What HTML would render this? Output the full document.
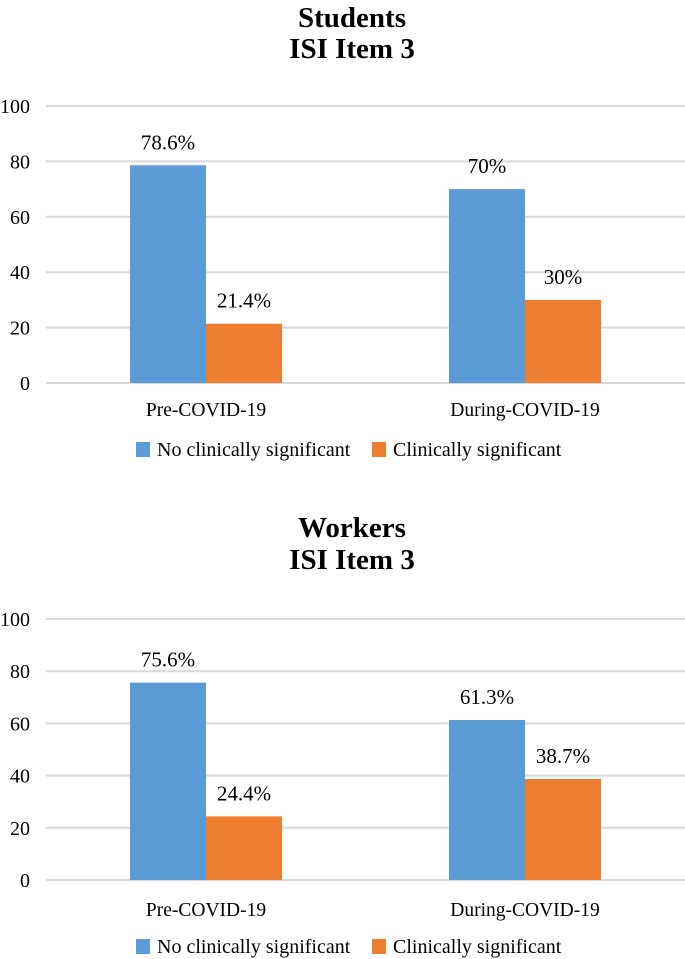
<!DOCTYPE html>
<html><head><meta charset="utf-8"><style>
body{margin:0;background:#fff;width:685px;height:959px;overflow:hidden}
svg{display:block;font-family:"Liberation Serif",serif}
</style></head><body>
<svg id="c" width="685" height="959"></svg>
<script>
const categories=["Pre-COVID-19","During-COVID-19"];
const seriesNames=["No clinically significant","Clinically significant"];
const studentsNo=[78.6,70];
const studentsCS=[21.4,30];
const studentsLabels=[["78.6%","70%"],["21.4%","30%"]];
const workersNo=[75.6,61.3];
const workersCS=[24.4,38.7];
const workersLabels=[["75.6%","61.3%"],["24.4%","38.7%"]];
const yTicks=[0,20,40,60,80,100];
const colors=["#5b9bd5","#ed7d31"];
const NS="http://www.w3.org/2000/svg";
const svg=document.getElementById('c');
function mk(tag,attrs,parent,text){const e=document.createElementNS(NS,tag);for(const k in attrs)e.setAttribute(k,attrs[k]);if(text!==undefined)e.textContent=text;(parent||svg).appendChild(e);return e;}
function chart(cfg){
  const g=mk('g',{});
  
  
  const y=v=>cfg.y0+(cfg.y100-cfg.y0)*v/100;
  cfg.titles.forEach((t,i)=>{const e=mk('text',{x:352,y:cfg.titleY[i],'text-anchor':'middle','font-size':29,'font-weight':'bold',fill:'#000'},g,t);
    
    });
  yTicks.forEach(t=>{const l=mk('line',{x1:46,x2:685,y1:y(t),y2:y(t),stroke:'#d9d9d9','stroke-width':2},g);
    
    
    const tx=mk('text',{x:30,y:y(t)+7,'text-anchor':'end','font-size':20,fill:'#000'},g,String(t));
    
    });
  const groupX=[130,449],bw=76;
  [cfg.no,cfg.cs].forEach((vals,s)=>{
    vals.forEach((v,i)=>{
      const x=groupX[i]+s*bw;
      const r=mk('rect',{x:x,y:y(v),width:bw,height:y(0)-y(v),fill:colors[s]},g);
      
      
      const t=mk('text',{x:x+bw/2,y:y(v)-cfg.labOff,'text-anchor':'middle','font-size':21,fill:'#000'},g,cfg.labels[s][i]);
      
      
    });
  });
  categories.forEach((c,i)=>{const t=mk('text',{x:groupX[i]+bw,y:cfg.catY,'text-anchor':'middle','font-size':19.5,fill:'#000'},g,c);
    
    });
  const lx=[136,372];
  seriesNames.forEach((n,i)=>{
    const r=mk('rect',{x:lx[i],y:cfg.legY-8,width:14,height:15,fill:colors[i]},g);
    
    
    const t=mk('text',{x:lx[i]+21,y:cfg.legY+6,'font-size':20,fill:'#000'},g,n);
    
    
  });
}
chart({name:'students-chart',titles:['Students','ISI Item 3'],titleY:[27,58],y0:383,y100:106,no:studentsNo,cs:studentsCS,labels:studentsLabels,labOff:16,catY:416,legY:450});
chart({name:'workers-chart',titles:['Workers','ISI Item 3'],titleY:[537,569],y0:880,y100:619,no:workersNo,cs:workersCS,labels:workersLabels,labOff:16,catY:916,legY:947});
</script>
</body></html>
